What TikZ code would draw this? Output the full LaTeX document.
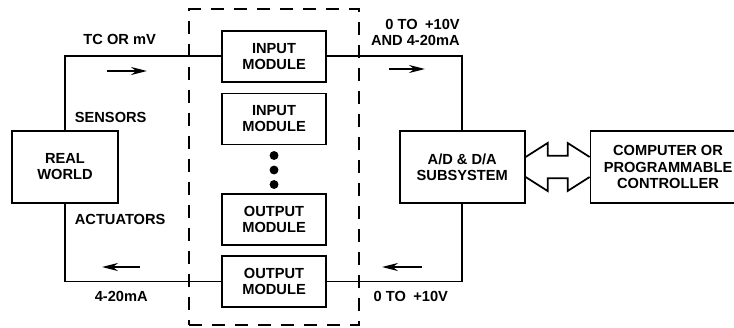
\documentclass[tikz,border=0pt]{standalone}
\usepackage{fontspec}
\setmainfont{Liberation Sans}
\usetikzlibrary{positioning,arrows.meta,fit}
\tikzset{
  block/.style={
    draw,
    rectangle,
    minimum height=2.16cm,
    minimum width=3.18cm,
    align=center
  },
  module/.style={
    draw,
    rectangle,
    minimum height=1.53cm,
    minimum width=3.12cm,
    align=center
  },
  frame/.style={draw,rectangle,dash pattern=on 0.39cm off 0.3cm,inner xsep=0.96cm,inner ysep=0.57cm},
  flow/.style={-{Stealth[length=0.48cm,width=0.24cm]}},
  lbl/.style={inner sep=0pt,align=left},
  dot/.style={draw,circle,minimum size=0.21cm,inner sep=0pt,outer sep=0pt,fill=black}
}

\begin{document}
\begin{tikzpicture}[line width=1.5pt,font=\bfseries\fontsize{12.5}{13.7}\selectfont]

					\useasboundingbox (-1.95,5.01) rectangle (20.07,-4.8);

					\node[block] (world) {REAL\\WORLD};

					% module rack
					\node[dot, right = 4.55cm of world, yshift=-0.09cm] (dot2) {};
					\node[dot, above = 0.225cm of dot2] (dot1) {};
					\node[dot, below = 0.225cm of dot2] (dot3) {};
					\node[module, above = 0.2cm of dot1] (in2) {INPUT\\MODULE};
					\node[module, above = 0.3cm of in2] (in1) {INPUT\\MODULE};
					\node[module, below = 0.15cm of dot3] (out1) {OUTPUT\\MODULE};
					\node[module, below = 0.28cm of out1] (out2) {OUTPUT\\MODULE};
					\node[frame, fit=(in1)(out2), yshift=0.05cm] (rack) {};

					% converter and computer
					\node[block, minimum width=3.75cm, right = 8.4cm of world] (ad) {A/D \& D/A\\SUBSYSTEM};
					\node[block, minimum width=4.65cm, right = 1.92cm of ad] (comp) {COMPUTER OR\\PROGRAMMABLE\\CONTROLLER};

					\draw (world.north) |- (in1.west)
						node [lbl, pos=0.086, right=0.27cm] {SENSORS}
						node [lbl, pos=0.675, above=0.33cm] {TC OR mV};
					\draw (in1.east) -| (ad.north)
						node [lbl, pos=0.5, above left=0.3cm and 0.05cm, align=right] {0 TO\enspace+10V\\AND 4-20mA};
					\draw (world.south) |- (out2.west)
						node [lbl, pos=0.099, right=0.27cm] {ACTUATORS}
						node [lbl, pos=0.68, below=0.26cm] {4-20mA};
					\draw (out2.east) -| (ad.south)
						node [lbl, pos=0.31, below=0.26cm] {0 TO\enspace+10V};

					% bus
					\draw ([yshift=0.3cm]ad.east) -- ++(0.66,0.42) -- ++(0,-0.38) -- ++(0.6,0) -- ++(0,0.38) -- ([yshift=0.3cm]comp.west);
					\draw ([yshift=-0.3cm]ad.east) -- ++(0.66,-0.42) -- ++(0,0.38) -- ++(0.6,0) -- ++(0,-0.38) -- ([yshift=-0.3cm]comp.west);

					% signal direction
					\coordinate (sense_a) at (1.26,2.88);
					\coordinate (sense_b) at (2.46,2.88);
					\coordinate (feed_a) at (9.72,2.94);
					\coordinate (feed_b) at (10.8,2.94);
					\coordinate (cmd_a) at (10.71,-3.0);
					\coordinate (cmd_b) at (9.51,-3.0);
					\coordinate (drive_a) at (2.25,-3.0);
					\coordinate (drive_b) at (1.11,-3.0);
					\draw[flow] (sense_a) -- (sense_b);
					\draw[flow] (feed_a) -- (feed_b);
					\draw[flow] (cmd_a) -- (cmd_b);
					\draw[flow] (drive_a) -- (drive_b);

				\end{tikzpicture}
\end{document}
